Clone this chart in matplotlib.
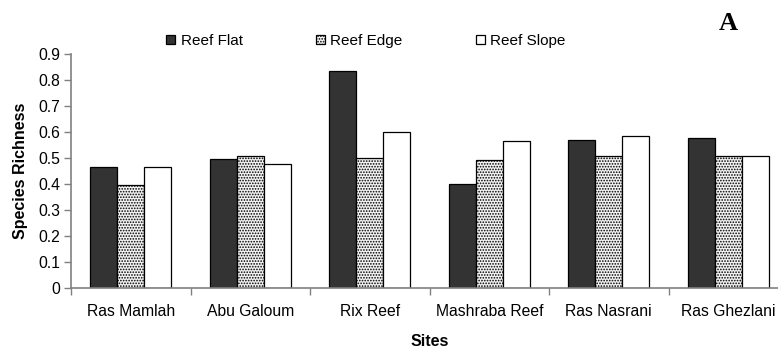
import matplotlib
matplotlib.use("Agg")
import matplotlib.pyplot as plt
import numpy as np

plt.rcParams['font.family'] = ['Liberation Sans', 'DejaVu Sans']
plt.rcParams['hatch.color'] = '#666666'
plt.rcParams['hatch.linewidth'] = 0.8

sites = ["Ras Mamlah", "Abu Galoum", "Rix Reef", "Mashraba Reef", "Ras Nasrani", "Ras Ghezlani"]
reef_flat = [0.467, 0.498, 0.836, 0.401, 0.571, 0.576]
reef_edge = [0.396, 0.508, 0.502, 0.493, 0.508, 0.508]
reef_slope = [0.467, 0.479, 0.599, 0.567, 0.586, 0.508]
series_names = ["Reef Flat", "Reef Edge", "Reef Slope"]
yticks = [0, 0.1, 0.2, 0.3, 0.4, 0.5, 0.6, 0.7, 0.8, 0.9]

W, H = 778, 349
fig = plt.figure(figsize=(W / 100, H / 100), dpi=100)
ax = fig.add_axes([71 / W, (H - 288.3) / H, (788 - 71) / W, (288.3 - 54) / H])

x = np.arange(len(sites))
bw = 0.225
styles = [
    dict(color="#333333", edgecolor="black", hatch=None),
    dict(color="#f2f2f2", edgecolor="black", hatch="......"),
    dict(color="white", edgecolor="black", hatch=None),
]
handles = []
for i, (vals, st) in enumerate(zip([reef_flat, reef_edge, reef_slope], styles)):
    b = ax.bar(x + (i - 1) * bw, vals, width=bw, color=st["color"],
               edgecolor=st["edgecolor"], hatch=st["hatch"], linewidth=0.9,
               label=series_names[i], zorder=2)
    handles.append(b)

ax.set_xlim(-0.5, len(sites) - 0.5)
ax.set_ylim(0, 0.9)
ax.set_yticks(yticks)
ax.set_yticklabels([f"{v:g}" for v in yticks])
ax.set_xticks(x)
ax.set_xticklabels(sites)
ax.set_xticks(np.arange(-0.5, len(sites), 1.0), minor=True)
ax.tick_params(axis='x', which='major', length=0, pad=11, labelsize=11.3)
ax.tick_params(axis='x', which='minor', length=5, width=1, color='#808080', direction='out')
ax.tick_params(axis='y', length=5, width=1, color='#808080', labelsize=11.3, pad=3)

for s in ["top", "right"]:
    ax.spines[s].set_visible(False)
for s in ["left", "bottom"]:
    ax.spines[s].set_color('#808080')
    ax.spines[s].set_linewidth(1.2)

ax.set_ylabel("Species Richness", fontsize=11.5, fontweight='bold')
ax.yaxis.set_label_coords(-(71 - 28) / (788 - 71), 0.5)
ax.set_xlabel("Sites", fontsize=11.5, fontweight='bold')
ax.xaxis.set_label_coords((430 - 71) / (788 - 71), -(342 - 288.3) / (288.3 - 54))
ax.xaxis.label.set_va('center')

leg = fig.legend(handles=handles, labels=series_names, loc='center left',
                 bbox_to_anchor=(166 / W, 1 - 41 / H), ncol=3, frameon=False,
                 fontsize=11, handlelength=0.6, handleheight=0.6,
                 handletextpad=0.35, columnspacing=4.8, borderaxespad=0,
                 borderpad=0)

fig.text(728 / W, 1 - 23 / H, "A", fontsize=19, fontweight='bold',
         family=['Liberation Serif', 'DejaVu Serif'], ha='center', va='center')

fig.savefig("out.png", dpi=100)
